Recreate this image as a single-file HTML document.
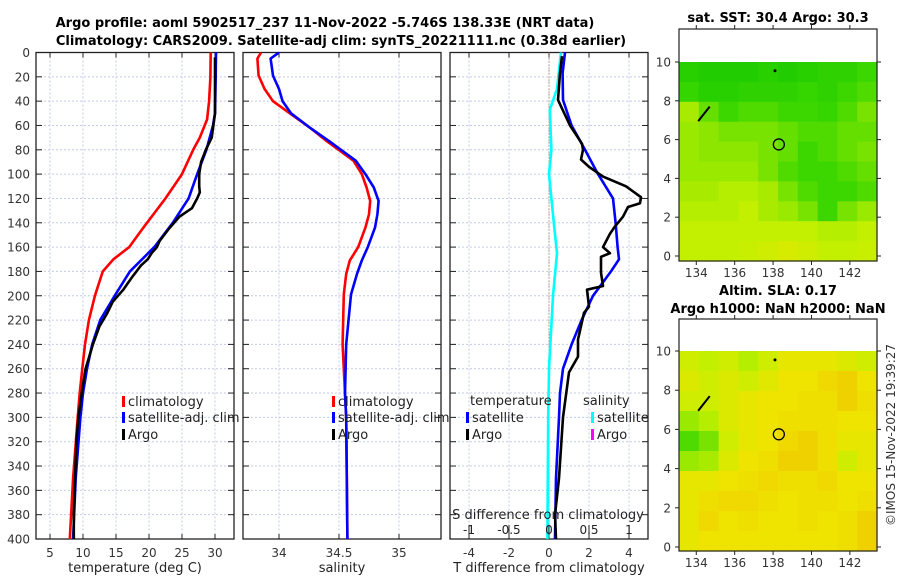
<!DOCTYPE html>
<html><head><meta charset="utf-8"><style>
html,body{margin:0;padding:0;background:#fff;}
svg{display:block;font-family:"DejaVu Sans","Liberation Sans",sans-serif;}
</style></head><body>
<svg id="fig" width="900" height="580" viewBox="0 0 900 580">
<text x="325" y="27" text-anchor="middle" font-size="13" font-weight="bold">Argo profile: aoml 5902517_237 11-Nov-2022 -5.746S 138.33E (NRT data)</text>
<text x="341" y="45" text-anchor="middle" font-size="13" font-weight="bold">Climatology: CARS2009. Satellite-adj clim: synTS_20221111.nc (0.38d earlier)</text>
<text x="778" y="22" text-anchor="middle" font-size="13" font-weight="bold">sat. SST: 30.4 Argo: 30.3</text>
<text x="778" y="295" text-anchor="middle" font-size="13" font-weight="bold">Altim. SLA: 0.17</text>
<text x="778" y="313" text-anchor="middle" font-size="13" font-weight="bold">Argo h1000: NaN h2000: NaN</text>
<text transform="translate(895,435) rotate(-90)" text-anchor="middle" font-size="12" fill="#333">©IMOS 15-Nov-2022 19:39:27</text>
<g id="g"></g>
</svg>
<script>
// ---- data ----
const depthTClim=[0,20,40,55,70,80,100,120,140,148,160,170,180,190,200,220,240,260,280,300,350,400];
const tempClim=[29.35,29.3,29.1,28.8,27.7,26.7,25.0,22.5,19.7,18.6,17.0,14.6,13.0,12.4,11.8,10.9,10.3,9.9,9.5,9.2,8.5,8.0];
const depthTSat=[0,20,50,60,80,100,120,140,160,180,200,220,240,260,280,300,350,400];
const tempSat=[30.15,30.1,30.0,29.7,28.7,27.3,26.0,23.6,20.8,17.1,14.8,12.6,11.4,10.6,10.0,9.6,8.9,8.5];
const depthArgo=[4,20,50,70,80,90,100,110,115,120,128,135,145,155,160,165,170,175,185,195,205,215,225,240,260,280,300,320,350,380,400];
const tempArgo=[30.0,30.0,30.0,29.5,28.6,27.9,27.6,27.6,27.7,27.3,26.5,24.6,23.0,21.6,21.2,20.4,19.8,18.8,17.4,16.1,14.5,13.6,12.5,11.5,10.4,9.8,9.3,9.0,8.8,8.6,8.6];
const depthS=[0,5,19,30,40,50,62,73,81,89,100,111,122,133,144,160,171,182,199,240,280,300,400];
const salClim=[33.85,33.82,33.83,33.88,33.95,34.09,34.26,34.40,34.51,34.62,34.69,34.73,34.76,34.75,34.72,34.66,34.59,34.56,34.54,34.53,34.55,34.56,34.57];
const salSat=[34.0,33.93,33.95,34.0,34.03,34.1,34.26,34.42,34.53,34.64,34.72,34.79,34.83,34.82,34.80,34.74,34.69,34.65,34.60,34.56,34.55,34.56,34.57];
const depthD=[0,17,39,60,80,100,120,140,160,170,180,200,220,240,260,280,300,350,400];
const dTSat=[0.8,0.68,0.7,1.13,1.8,2.45,3.2,3.33,3.43,3.5,3.1,2.2,1.63,1.13,0.7,0.55,0.5,0.35,0.3];
const depthDA=[3,17,39,60,75,80,88,94,102,110,119,124,127,135,143,149,160,165,168,181,192,195,209,214,225,236,250,263,300,350,380,400];
const dTArgo=[0.65,0.55,0.45,1.05,1.65,1.7,1.6,2.0,2.7,3.85,4.6,4.55,3.95,3.7,3.3,3.05,2.7,3.05,2.6,2.6,2.7,1.9,2.0,1.75,1.6,1.45,1.45,1.0,0.7,0.5,0.3,0.35];
const depthDS=[0,30,47,80,100,140,165,200,260,300,400];
const dSSat=[0.15,0.1,0.01,0.03,0.0,0.06,0.1,0.05,0.0,-0.01,-0.02];
const tTicks=[5,10,15,20,25,30], sTicks=[34,34.5,35], dtTicks=[-4,-2,0,2,4], dsTicks=[-1,-0.5,0,0.5,1];
const dTicks=[0,20,40,60,80,100,120,140,160,180,200,220,240,260,280,300,320,340,360,380,400];
const lonTicks=[134,136,138,140,142], latTicks=[0,2,4,6,8,10];
const sstGrid=[
[0.15,0.1,0.1,0.1,0.15,0.1,0.15,0.2,0.2,0.3],
[0.25,0.15,0.15,0.2,0.2,0.2,0.25,0.2,0.3,0.35],
[0.6,0.4,0.3,0.35,0.35,0.3,0.3,0.25,0.35,0.45],
[0.55,0.5,0.45,0.45,0.45,0.4,0.35,0.35,0.4,0.4],
[0.55,0.5,0.5,0.5,0.45,0.4,0.3,0.35,0.4,0.45],
[0.55,0.55,0.55,0.55,0.45,0.35,0.3,0.3,0.35,0.4],
[0.6,0.6,0.65,0.65,0.6,0.45,0.35,0.3,0.3,0.35],
[0.65,0.65,0.65,0.7,0.6,0.55,0.45,0.3,0.45,0.55],
[0.7,0.7,0.7,0.7,0.7,0.7,0.7,0.65,0.65,0.7],
[0.7,0.7,0.7,0.72,0.75,0.78,0.75,0.7,0.7,0.72]];
const slaGrid=[
[0.75,0.7,0.75,0.65,0.75,0.85,0.85,0.85,0.8,0.75],
[0.8,0.75,0.8,0.75,0.82,0.88,0.88,0.92,0.95,0.88],
[0.75,0.75,0.8,0.85,0.88,0.88,0.9,0.9,0.95,0.9],
[0.55,0.65,0.8,0.85,0.88,0.9,0.9,0.9,0.88,0.88],
[0.35,0.45,0.75,0.85,0.88,0.92,0.95,0.9,0.85,0.85],
[0.55,0.6,0.8,0.88,0.9,0.95,0.95,0.9,0.75,0.85],
[0.85,0.85,0.88,0.9,0.92,0.9,0.9,0.92,0.88,0.88],
[0.85,0.9,0.92,0.92,0.9,0.88,0.9,0.9,0.88,0.9],
[0.85,0.92,0.88,0.9,0.88,0.88,0.9,0.88,0.9,0.95],
[0.85,0.88,0.88,0.88,0.88,0.88,0.88,0.88,0.9,0.95]];
const argoPos=[138.3,5.75];

// ---- drawing ----
const NS='http://www.w3.org/2000/svg', G=document.getElementById('g');
function el(t,a,p){const e=document.createElementNS(NS,t);for(const k in a)e.setAttribute(k,a[k]);(p||G).appendChild(e);return e;}
const Y0=52.5,Y1=539;
const yD=d=>Y0+d*(Y1-Y0)/400;
function panel(name,x0,x1,ticks,xf,labels,showY){
  const g=el('g',{});
  
  
  ticks.forEach(t=>{const x=xf(t);
    const l=el('line',{x1:x,x2:x,y1:Y0,y2:Y1,stroke:'#c3cbe6','stroke-width':1,'stroke-dasharray':'2,2'},g);
    
    el('line',{x1:x,x2:x,y1:Y1,y2:Y1-5,stroke:'#222'},g);el('line',{x1:x,x2:x,y1:Y0,y2:Y0+5,stroke:'#222'},g);
    if(labels){const tx=el('text',{x:x,y:557,'text-anchor':'middle','font-size':12,fill:'#333'},g);tx.textContent=t;
      }
  });
  dTicks.forEach(d=>{const y=yD(d);
    if(d>0&&d<400){el('line',{x1:x0,x2:x1,y1:y,y2:y,stroke:'#c3cbe6','stroke-width':1,'stroke-dasharray':'2,2'},g);}
    el('line',{x1:x0,x2:x0+6,y1:y,y2:y,stroke:'#222'},g);el('line',{x1:x1,x2:x1-6,y1:y,y2:y,stroke:'#222'},g);
    if(showY){const tx=el('text',{x:x0-6,y:y+4.5,'text-anchor':'end','font-size':12,fill:'#333'},g);tx.textContent=d;
      }
  });
  const r=el('rect',{x:x0,y:Y0,width:x1-x0,height:Y1-Y0,fill:'none',stroke:'#222','stroke-width':1.3},g);
  
  return g;
}
function line(g,xs,ds,xf,col,name){
  const pts=xs.map((v,i)=>xf(v).toFixed(1)+','+yD(ds[i]).toFixed(1)).join(' ');
  const p=el('polyline',{points:pts,fill:'none',stroke:col,'stroke-width':2.6,'stroke-linejoin':'round'},g);
  
}
function legend(g,x,y,col,label,name){
  const b=el('rect',{x:x,y:y-9,width:3,height:11,fill:col},g);
  const t=el('text',{x:x+6,y:y+1,'font-size':13,fill:'#222'},g);t.textContent=label;
  
  
}
function txt(x,y,s,name,anchor,size){const t=el('text',{x:x,y:y,'text-anchor':anchor||'middle','font-size':size||13,fill:'#222'});t.textContent=s;
  return t;}

// Panel 1 temperature
const xT=t=>50+(t-5)*6.6;
const p1=panel('temperature-panel',36,234,tTicks,xT,true,true);
line(p1,tempClim,depthTClim,xT,'#ff0000','climatology-temp-line');
line(p1,tempSat,depthTSat,xT,'#0000ff','satellite-temp-line');
line(p1,tempArgo,depthArgo,xT,'#000000','argo-temp-line');
legend(p1,122,405,'#ff0000','climatology','legend-climatology');
legend(p1,122,421,'#0000ff','satellite-adj. clim','legend-satellite');
legend(p1,122,438,'#000000','Argo','legend-argo');
txt(135,572,'temperature (deg C)','temperature-axis-title');

// Panel 2 salinity
const xS=s=>279+(s-34)*120;
const p2=panel('salinity-panel',243,441,sTicks,xS,true,false);
line(p2,salClim,depthS,xS,'#ff0000','climatology-salinity-line');
line(p2,salSat,depthS,xS,'#0000ff','satellite-salinity-line');
legend(p2,332,405,'#ff0000','climatology','legend2-climatology');
legend(p2,332,421,'#0000ff','satellite-adj. clim','legend2-satellite');
legend(p2,332,438,'#000000','Argo','legend2-argo');
txt(342,572,'salinity','salinity-axis-title');

// Panel 3 differences
const xdT=v=>549+v*20, xdS=v=>549+v*80;
const p3=panel('difference-panel',450,648,dtTicks,xdT,true,false);
el('line',{x1:549,x2:549,y1:Y0,y2:Y1,stroke:'#8a6a3a','stroke-width':1,'stroke-dasharray':'1,2'},p3);
line(p3,dSSat,depthDS,xdS,'#00ffff','satellite-salinity-diff-line');
line(p3,dTSat,depthD,xdT,'#0000ff','satellite-temp-diff-line');
line(p3,dTArgo,depthDA,xdT,'#000000','argo-temp-diff-line');
txt(470,405,'temperature','legend3-temp-header','start');
txt(583,405,'salinity','legend3-sal-header','start');
legend(p3,466,421,'#0000ff','satellite','legend3-temp-satellite');
legend(p3,466,438,'#000000','Argo','legend3-temp-argo');
legend(p3,591,421,'#00ffff','satellite','legend3-sal-satellite');
legend(p3,591,438,'#ff00ff','Argo','legend3-sal-argo');
txt(548,519,'S difference from climatology','s-diff-axis-title');
dsTicks.forEach(v=>{const x=xdS(v);el('line',{x1:x,x2:x,y1:Y1-4,y2:Y1-14,stroke:'#222'});
  txt(x,534,String(v),'s-diff-tick-label','middle',12);});
txt(549,572,'T difference from climatology','t-diff-axis-title');

// Maps
function cmap(v){
  const stops=[[0,[20,200,0]],[0.3,[60,215,0]],[0.5,[140,230,0]],[0.7,[195,240,0]],[0.88,[238,228,0]],[1,[240,195,0]]];
  for(let i=1;i<stops.length;i++){if(v<=stops[i][0]){const a=stops[i-1],b=stops[i],f=(v-a[0])/(b[0]-a[0]);
    return 'rgb('+a[1].map((c,j)=>Math.round(c+(b[1][j]-c)*f)).join(',')+')';}}
  return 'rgb(240,195,0)';
}
function mapPanel(name,grid,top,imgTop,y10,y0,bottom){
  const x0=679,x1=877;
  const xL=l=>679+(l-133.1)*19.2, yL=v=>y0+(y10-y0)*v/10;
  const g=el('g',{});
  
  const rows=grid.length, cols=grid[0].length, cw=(x1-x0)/cols, rh=(bottom-imgTop)/rows;
  grid.forEach((row,r)=>row.forEach((v,c)=>{
    const cell=el('rect',{x:(x0+c*cw).toFixed(2),y:(imgTop+r*rh).toFixed(2),width:(cw+0.6).toFixed(2),height:(rh+0.6).toFixed(2),fill:cmap(v)},g);
    
  }));
  // coast fragments
  el('path',{d:`M${xL(134.1)},${yL(6.95)} L${xL(134.7)},${yL(7.7)}`,stroke:'#000','stroke-width':2},g);
  el('circle',{cx:xL(138.1),cy:yL(9.55),r:1.5,fill:'#000'},g);
  const c=el('circle',{cx:xL(argoPos[0]),cy:yL(argoPos[1]),r:5.5,fill:'none',stroke:'#000','stroke-width':1.3},g);
  
  el('rect',{x:x0,y:top,width:x1-x0,height:bottom-top,fill:'none',stroke:'#222','stroke-width':1.2},g);
  lonTicks.forEach(l=>{const x=xL(l);el('line',{x1:x,x2:x,y1:bottom,y2:bottom+4,stroke:'#222'},g);el('line',{x1:x,x2:x,y1:top,y2:top-4,stroke:'#222'},g);
    const t=el('text',{x:x,y:bottom+16,'text-anchor':'middle','font-size':12,fill:'#333'},g);t.textContent=l;
    });
  latTicks.forEach(v=>{const y=yL(v);el('line',{x1:x0,x2:x0-4,y1:y,y2:y,stroke:'#222'},g);el('line',{x1:x1,x2:x1+4,y1:y,y2:y,stroke:'#222'},g);
    const t=el('text',{x:x0-8,y:y+4.5,'text-anchor':'end','font-size':12,fill:'#333'},g);t.textContent=v;
    });
}
mapPanel('sst-map',sstGrid,29,62,62,256,261);
mapPanel('sla-map',slaGrid,319,351,351,547,551);
</script>
</body></html>
